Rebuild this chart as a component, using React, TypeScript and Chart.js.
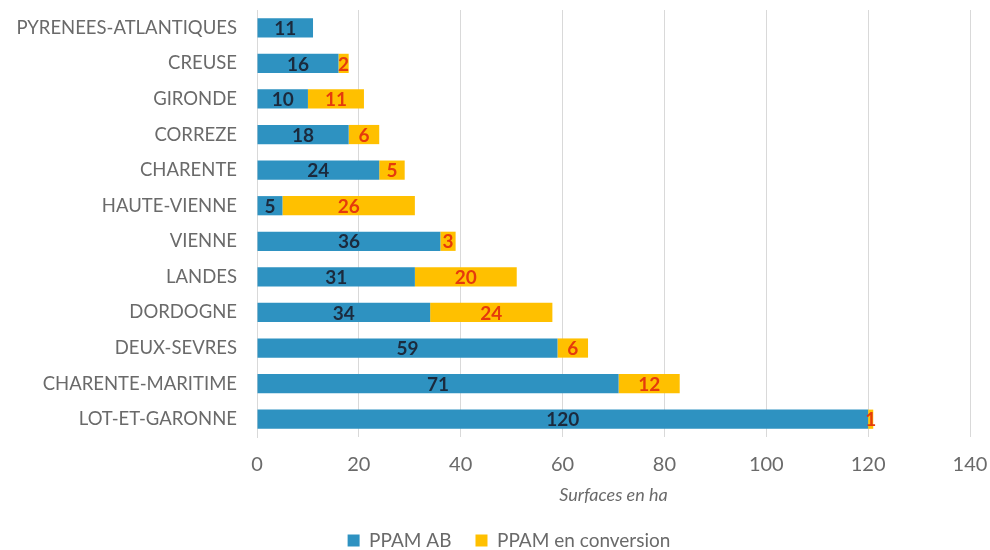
import React, { useEffect, useRef } from "react";
import { Chart, registerables } from "chart.js";

Chart.register(...registerables);

const categories = [
  "PYRENEES-ATLANTIQUES",
  "CREUSE",
  "GIRONDE",
  "CORREZE",
  "CHARENTE",
  "HAUTE-VIENNE",
  "VIENNE",
  "LANDES",
  "DORDOGNE",
  "DEUX-SEVRES",
  "CHARENTE-MARITIME",
  "LOT-ET-GARONNE",
];
const ppamAB = [11, 16, 10, 18, 24, 5, 36, 31, 34, 59, 71, 120];
const ppamConversion = [null, 2, 11, 6, 5, 26, 3, 20, 24, 6, 12, 1];
const seriesNames = ["PPAM AB", "PPAM en conversion"];
const axisTitle = "Surfaces en ha";

const FONT = "Lato, 'Open Sans', sans-serif";

const labelPlugin = {
  id: "segLabels",
  afterDatasetsDraw(chart: any) {
    const ctx = chart.ctx;
    const colors = ["#1b2a3d", "#e53a0c"];
    chart.data.datasets.forEach((ds: any, di: number) => {
      const meta = chart.getDatasetMeta(di);
      meta.data.forEach((bar: any, i: number) => {
        const v = ds.data[i];
        if (v === null || v === undefined) return;
        const x = (bar.x + bar.base) / 2;
        ctx.save();
        ctx.font = `bold 19px ${FONT}`;
        ctx.fillStyle = colors[di];
        ctx.textAlign = "center";
        ctx.textBaseline = "middle";
        ctx.fillText(String(v), x, bar.y + 1);
        ctx.restore();
      });
    });
  },
};

export default function App() {
  const ref = useRef<HTMLCanvasElement | null>(null);
  useEffect(() => {
    if (!ref.current) return;
    const chart = new Chart(ref.current, {
      type: "bar",
      data: {
        labels: categories,
        datasets: [
          {
            label: seriesNames[0],
            data: ppamAB,
            backgroundColor: "#2e92c1",
            categoryPercentage: 0.54,
            barPercentage: 1,
          },
          {
            label: seriesNames[1],
            data: ppamConversion as any,
            backgroundColor: "#ffc000",
            categoryPercentage: 0.54,
            barPercentage: 1,
          },
        ],
      },
      options: {
        indexAxis: "y",
        animation: false,
        responsive: false,
        maintainAspectRatio: false,
        layout: { padding: { top: 10, right: -14, left: 14, bottom: -10 } },
        scales: {
          x: {
            stacked: true,
            min: 0,
            max: 140,
            ticks: {
              stepSize: 20,
              color: "#6a6a6a",
              font: { family: FONT, size: 20 },
              padding: 16,
            },
            grid: { color: "#d9d9d9", drawTicks: false },
            border: { display: false },
            title: {
              display: true,
              text: axisTitle,
              color: "#6a6a6a",
              font: { family: FONT, size: 18, style: "italic" },
              padding: { top: 0, bottom: 1 },
            },
            afterFit: (scale: any) => {
              scale.height = 70;
              scale.paddingRight = 20;
              scale.paddingLeft = 0;
            },
          },
          y: {
            stacked: true,
            ticks: {
              color: "#6a6a6a",
              font: { family: FONT, size: 18.5 },
              padding: 20,
            },
            grid: { display: false, drawTicks: false },
            border: { display: true, color: "#d9d9d9" },
            afterFit: (scale: any) => {
              scale.width = 243;
              scale.paddingTop = 0;
              scale.paddingBottom = 0;
            },
          },
        },
        plugins: {
          legend: {
            position: "bottom",
            labels: {
              color: "#6a6a6a",
              font: { family: FONT, size: 19 },
              boxWidth: 12,
              boxHeight: 12,
              padding: 24,
            },
          },
          tooltip: { enabled: false },
        },
      },
      plugins: [labelPlugin],
    });
    return () => chart.destroy();
  }, []);
  return (
    <div style={{ position: "fixed", left: 0, top: 0, width: 990, height: 550, background: "#fff" }}>
      <canvas ref={ref} width={990} height={550} style={{ width: 990, height: 550 }} />
    </div>
  );
}
